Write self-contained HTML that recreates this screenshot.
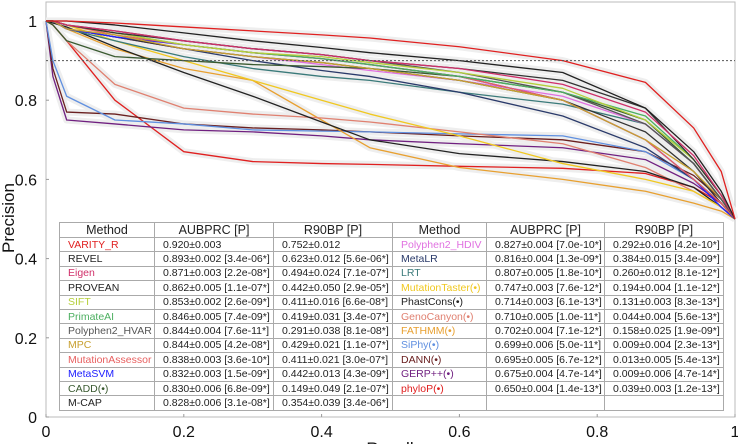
<!DOCTYPE html>
<html><head><meta charset="utf-8"><style>
body{margin:0;width:738px;height:444px;overflow:hidden;background:#fff;font-family:"Liberation Sans",sans-serif;position:relative}
svg{position:absolute;left:0;top:0}
table{position:absolute;border-collapse:collapse;font-size:10.5px;background:#fff;table-layout:fixed}
td,th{border:1px solid #aaa;height:13.4px;padding:0 0 0 8px;white-space:nowrap;overflow:hidden;color:#222}
th{font-weight:normal;font-size:12.5px;text-align:center;padding:0}
</style></head><body>
<svg id="chart" width="738" height="444"></svg>
<table id="t1" style="left:59px;top:222px;width:333px">
<colgroup><col style="width:95px"><col style="width:119px"><col style="width:119px"></colgroup>
<tr><th>Method</th><th>AUBPRC [P]</th><th>R90BP [P]</th></tr>
<tr><td style="color:#e02020">VARITY_R</td><td>0.920±0.003</td><td>0.752±0.012</td></tr>
<tr><td>REVEL</td><td>0.893±0.002 [3.4e-06*]</td><td>0.623±0.012 [5.6e-06*]</td></tr>
<tr><td style="color:#d0306a">Eigen</td><td>0.871±0.003 [2.2e-08*]</td><td>0.494±0.024 [7.1e-07*]</td></tr>
<tr><td>PROVEAN</td><td>0.862±0.005 [1.1e-07*]</td><td>0.442±0.050 [2.9e-05*]</td></tr>
<tr><td style="color:#b5cf3a">SIFT</td><td>0.853±0.002 [2.6e-09*]</td><td>0.411±0.016 [6.6e-08*]</td></tr>
<tr><td style="color:#4caf60">PrimateAI</td><td>0.846±0.005 [7.4e-09*]</td><td>0.419±0.031 [3.4e-07*]</td></tr>
<tr><td style="color:#555">Polyphen2_HVAR</td><td>0.844±0.004 [7.6e-11*]</td><td>0.291±0.038 [8.1e-08*]</td></tr>
<tr><td style="color:#c8a030">MPC</td><td>0.844±0.005 [4.2e-08*]</td><td>0.429±0.021 [1.1e-07*]</td></tr>
<tr><td style="color:#e86060">MutationAssessor</td><td>0.838±0.003 [3.6e-10*]</td><td>0.411±0.021 [3.0e-07*]</td></tr>
<tr><td style="color:#2020ff">MetaSVM</td><td>0.832±0.003 [1.5e-09*]</td><td>0.442±0.013 [4.3e-09*]</td></tr>
<tr><td style="color:#3a5a30">CADD(•)</td><td>0.830±0.006 [6.8e-09*]</td><td>0.149±0.049 [2.1e-07*]</td></tr>
<tr><td>M-CAP</td><td>0.828±0.006 [3.1e-08*]</td><td>0.354±0.039 [3.4e-06*]</td></tr>
</table>
<table id="t2" style="left:392px;top:222px;width:331px">
<colgroup><col style="width:94px"><col style="width:118px"><col style="width:119px"></colgroup>
<tr><th>Method</th><th>AUBPRC [P]</th><th>R90BP [P]</th></tr>
<tr><td style="color:#e070e0">Polyphen2_HDIV</td><td>0.827±0.004 [7.0e-10*]</td><td>0.292±0.016 [4.2e-10*]</td></tr>
<tr><td style="color:#2a3a6a">MetaLR</td><td>0.816±0.004 [1.3e-09*]</td><td>0.384±0.015 [3.4e-09*]</td></tr>
<tr><td style="color:#3a7a7a">LRT</td><td>0.807±0.005 [1.8e-10*]</td><td>0.260±0.012 [8.1e-12*]</td></tr>
<tr><td style="color:#f0c820">MutationTaster(•)</td><td>0.747±0.003 [7.6e-12*]</td><td>0.194±0.004 [1.1e-12*]</td></tr>
<tr><td>PhastCons(•)</td><td>0.714±0.003 [6.1e-13*]</td><td>0.131±0.003 [8.3e-13*]</td></tr>
<tr><td style="color:#e08070">GenoCanyon(•)</td><td>0.710±0.005 [1.0e-11*]</td><td>0.044±0.004 [5.6e-13*]</td></tr>
<tr><td style="color:#e8a030">FATHMM(•)</td><td>0.702±0.004 [7.1e-12*]</td><td>0.158±0.025 [1.9e-09*]</td></tr>
<tr><td style="color:#6090e0">SiPhy(•)</td><td>0.699±0.006 [5.0e-11*]</td><td>0.009±0.004 [2.3e-13*]</td></tr>
<tr><td style="color:#6a2020">DANN(•)</td><td>0.695±0.005 [6.7e-12*]</td><td>0.013±0.005 [5.4e-13*]</td></tr>
<tr><td style="color:#702080">GERP++(•)</td><td>0.675±0.004 [4.7e-14*]</td><td>0.009±0.006 [4.7e-14*]</td></tr>
<tr><td style="color:#e02020">phyloP(•)</td><td>0.650±0.004 [1.4e-13*]</td><td>0.039±0.003 [1.2e-13*]</td></tr>
<tr><td></td><td></td><td></td></tr>
</table>
<script>
const recall=[0,0.01,0.03,0.1,0.2,0.3,0.4,0.47,0.6,0.75,0.87,0.94,0.98,1];
const names=["phyloP","GERP","DANN","SiPhy","FATHMM","GenoCanyon","PhastCons","MutationTaster","LRT","MetaLR","Polyphen2_HDIV","M-CAP","CADD","MetaSVM","MutationAssessor","MPC","Polyphen2_HVAR","PrimateAI","SIFT","PROVEAN","Eigen","REVEL","VARITY_R"];
const colors=["#e02020","#702080","#6a2020","#6090e0","#e8a030","#e08070","#222","#f0c820","#3a7a7a","#2a3a6a","#e070e0","#333","#3a5a30","#2020ff","#e86060","#c8a030","#555","#4caf60","#b5cf3a","#333","#d0306a","#222","#e02020"];
const precision=[
[1,0.99,0.95,0.80,0.67,0.645,0.64,0.638,0.633,0.628,0.615,0.58,0.54,0.5],
[1,0.86,0.75,0.74,0.725,0.72,0.71,0.7,0.69,0.68,0.65,0.59,0.54,0.5],
[1,0.88,0.77,0.765,0.74,0.73,0.725,0.72,0.71,0.7,0.67,0.61,0.55,0.5],
[1,0.9,0.81,0.75,0.74,0.725,0.722,0.72,0.715,0.71,0.67,0.6,0.54,0.5],
[1,1,0.98,0.93,0.88,0.85,0.75,0.68,0.63,0.6,0.57,0.54,0.52,0.5],
[1,0.99,0.95,0.84,0.78,0.765,0.755,0.745,0.72,0.69,0.63,0.57,0.53,0.5],
[1,0.995,0.985,0.935,0.87,0.81,0.745,0.70,0.665,0.645,0.62,0.58,0.53,0.5],
[1,1,0.99,0.95,0.9,0.85,0.8,0.765,0.71,0.64,0.6,0.57,0.53,0.5],
[1,1,0.98,0.95,0.91,0.88,0.86,0.85,0.82,0.79,0.74,0.64,0.55,0.5],
[1,1,0.98,0.96,0.93,0.9,0.875,0.86,0.82,0.76,0.68,0.6,0.54,0.5],
[1,1,0.98,0.96,0.93,0.91,0.89,0.875,0.85,0.81,0.74,0.64,0.55,0.5],
[1,1,0.98,0.96,0.93,0.91,0.895,0.88,0.85,0.8,0.72,0.62,0.54,0.5],
[1,0.99,0.95,0.91,0.9,0.89,0.885,0.88,0.86,0.82,0.75,0.64,0.55,0.5],
[1,1,0.98,0.96,0.94,0.92,0.905,0.89,0.86,0.8,0.7,0.6,0.53,0.5],
[1,1,0.99,0.965,0.94,0.92,0.905,0.89,0.86,0.8,0.7,0.6,0.54,0.5],
[1,1,0.98,0.965,0.93,0.91,0.895,0.88,0.85,0.8,0.7,0.62,0.55,0.5],
[1,1,0.99,0.975,0.95,0.93,0.915,0.9,0.87,0.82,0.74,0.64,0.55,0.5],
[1,1,0.99,0.97,0.94,0.92,0.905,0.89,0.86,0.82,0.76,0.65,0.56,0.5],
[1,1,0.99,0.97,0.94,0.92,0.91,0.895,0.87,0.83,0.75,0.65,0.56,0.5],
[1,1,0.99,0.97,0.95,0.93,0.915,0.9,0.88,0.85,0.78,0.65,0.56,0.5],
[1,1,0.99,0.975,0.95,0.93,0.915,0.9,0.88,0.84,0.77,0.66,0.56,0.5],
[1,1,1,0.99,0.97,0.95,0.933,0.92,0.9,0.87,0.78,0.67,0.57,0.5],
[1,1,1,0.995,0.985,0.975,0.965,0.957,0.935,0.9,0.845,0.73,0.62,0.5]];
const xTicks=[0,0.2,0.4,0.6,0.8,1];
const xTickLabels=["0","0.2","0.4","0.6","0.8","1"];
const yTicks=[0,0.2,0.4,0.6,0.8,1];
const yTickLabels=["0","0.2","0.4","0.6","0.8","1"];
const refLine=0.9;
const X0=46,X1=735,Y0=417,Y1=21;
const sx=v=>X0+(X1-X0)*v, sy=v=>Y0-(Y0-Y1)*v;
const svg=document.getElementById('chart');const NS='http://www.w3.org/2000/svg';
function mk(t,a){const e=document.createElementNS(NS,t);for(const k in a)e.setAttribute(k,a[k]);svg.appendChild(e);return e;}
const frame=mk('rect',{x:X0,y:2,width:X1-X0,height:Y0-2,fill:'none',stroke:'#bbb','stroke-width':1});


xTicks.forEach((t,i)=>{
 const tk=mk('line',{x1:sx(t),x2:sx(t),y1:Y0,y2:Y0-3,stroke:'#999'});
 
 
 const l=mk('text',{x:sx(t),y:Y0+20,'text-anchor':'middle','font-size':'16',fill:'#111'});l.textContent=xTickLabels[i];
 
 
});
yTicks.forEach((t,i)=>{
 const tk=mk('line',{x1:X0,x2:X0+3,y1:sy(t),y2:sy(t),stroke:'#999'});
 
 
 const l=mk('text',{x:X0-9,y:sy(t)+6,'text-anchor':'end','font-size':'16',fill:'#111'});l.textContent=yTickLabels[i];
 
 
});
const yt=mk('text',{x:0,y:0,transform:'translate(14,218) rotate(-90)','text-anchor':'middle','font-size':'17',fill:'#111'});yt.textContent='Precision';


const xt=mk('text',{x:390,y:454,'text-anchor':'middle','font-size':'17',fill:'#111'});xt.textContent='Recall';


precision.forEach(p=>{
 const pts=p.map((v,i)=>sx(recall[i])+','+sy(v)).join(' ');
 const b=mk('polyline',{points:pts,fill:'none',stroke:'#eee','stroke-width':7,'stroke-linejoin':'round'});
 
 
});
precision.forEach((p,k)=>{
 const pts=p.map((v,i)=>sx(recall[i])+','+sy(v)).join(' ');
 const l=mk('polyline',{points:pts,fill:'none',stroke:colors[k],'stroke-width':1.3,'stroke-linejoin':'round'});
 
 
});
const ref=mk('line',{x1:X0,x2:X1,y1:sy(refLine),y2:sy(refLine),stroke:'#555','stroke-dasharray':'2,2','stroke-width':1});


</script>
</body></html>
